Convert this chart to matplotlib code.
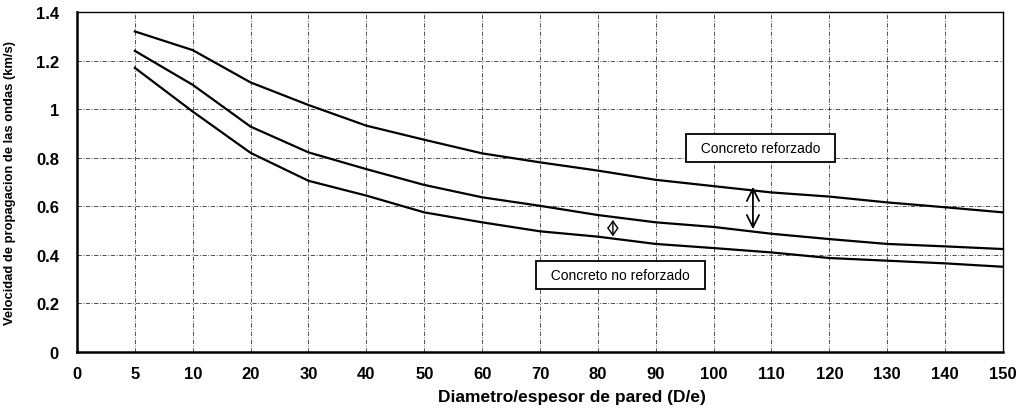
import matplotlib

matplotlib.use("Agg")
import matplotlib.pyplot as plt
import numpy as np

# D/e categories (evenly spaced on the chart like a category axis)
tick_labels = ["0", "5", "10", "20", "30", "40", "50", "60", "70", "80",
               "90", "100", "110", "120", "130", "140", "150"]
ratio = [5, 10, 20, 30, 40, 50, 60, 70, 80, 90, 100, 110, 120, 130, 140, 150]

# wave speed (km/s)
upper = [1.32, 1.243, 1.11, 1.017, 0.932, 0.874, 0.818, 0.781, 0.747, 0.709,
         0.683, 0.657, 0.64, 0.616, 0.596, 0.575]
middle = [1.24, 1.10, 0.928, 0.822, 0.753, 0.688, 0.637, 0.602, 0.564, 0.534,
          0.515, 0.487, 0.465, 0.445, 0.435, 0.424]
lower = [1.17, 0.99, 0.82, 0.705, 0.644, 0.575, 0.534, 0.497, 0.475, 0.445,
         0.428, 0.41, 0.387, 0.376, 0.365, 0.351]

plt.rcParams["font.family"] = ["Liberation Sans", "DejaVu Sans"]

fig = plt.figure(figsize=(10.25, 4.14), dpi=100)
ax = fig.add_axes([0.0751, 0.1473, 0.9034, 0.8213])

pos = np.array([tick_labels.index(str(r)) for r in ratio])
for series in (upper, middle, lower):
    ax.plot(pos, series, color="black", lw=1.6, solid_joinstyle="round")

ax.set_xlim(0, len(tick_labels) - 1)
ax.set_ylim(0, 1.4)
ax.set_xticks(range(len(tick_labels)))
ax.set_xticklabels(tick_labels)
ax.set_yticks(np.arange(0, 1.41, 0.2))
ax.set_yticklabels(["0", "0.2", "0.4", "0.6", "0.8", "1", "1.2", "1.4"])
ax.tick_params(length=0, labelsize=12)
ax.tick_params(axis="y", pad=13)
ax.tick_params(axis="x", pad=10)
for lbl in ax.get_xticklabels() + ax.get_yticklabels():
    lbl.set_fontweight("bold")

ax.grid(True, color="#333333", lw=0.6, ls=(0, (5, 2, 1, 2)))
ax.set_axisbelow(True)
for side in ("left", "bottom"):
    ax.spines[side].set_linewidth(1.8)
for side in ("top", "right"):
    ax.spines[side].set_linewidth(1.0)

ax.set_ylabel("Velocidad de propagacion de las ondas (km/s)", fontsize=9.4,
              fontweight="bold")
ax.yaxis.set_label_coords(-0.066, 0.5)
ax.set_xlabel("Diametro/espesor de pared (D/e)", fontsize=12.5, fontweight="bold")
ax.xaxis.set_label_coords(0.535, -0.11)

# band annotations
ax.annotate("", xy=(11.68, 0.692), xytext=(11.68, 0.494),
            arrowprops=dict(arrowstyle="<->", color="black", lw=1.3,
                            mutation_scale=22))
ax.annotate("", xy=(9.26, 0.555), xytext=(9.26, 0.465),
            arrowprops=dict(arrowstyle="<->,head_length=0.5,head_width=0.35",
                            color="black", lw=1.0, mutation_scale=10))

box = dict(boxstyle="square,pad=0.5", fc="white", ec="black", lw=1.3)
ax.text(11.81, 0.84, "  Concreto reforzado  ", fontsize=10, ha="center",
        va="center", bbox=box)
ax.text(9.39, 0.317, "  Concreto no reforzado  ", fontsize=10, ha="center",
        va="center", bbox=box)

fig.savefig("out.png", dpi=100)
